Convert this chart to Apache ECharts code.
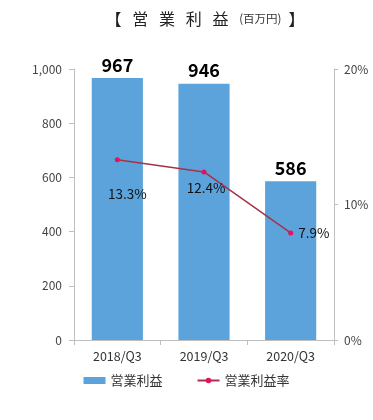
<!DOCTYPE html>
<html><head><meta charset="utf-8">
<script src="https://cdn.jsdelivr.net/npm/echarts@6/dist/echarts.min.js"></script>
<style>html,body{margin:0;padding:0;background:#fff}#c{width:373px;height:420px}</style>
</head><body><div id="c"></div>
<script>
const categories = ['2018/Q3', '2019/Q3', '2020/Q3'];
const profit = [967, 946, 586];
const margin = [13.3, 12.4, 7.9];
const leftTicks = [0, 200, 400, 600, 800, 1000];
const rightTicks = [0, 10, 20];

const FONT = '"Noto Sans CJK JP", "Noto Sans", sans-serif';
const chart = echarts.init(document.getElementById('c'));
const marginLabelPos = [
  { position: 'bottom', offset: [10, 20] },
  { position: 'bottom', offset: [2, 2] },
  { position: 'right', offset: [0, 0] }
];
chart.setOption({
  animation: false,
  textStyle: { fontFamily: FONT },
  title: {
    text: '{a|【   営   業   利   益   }{b|(百万円)}{a|  】}',
    left: 200, top: 6, textAlign: 'center',
    textStyle: {
      rich: {
        a: { fontSize: 16, color: '#222', fontWeight: 'normal', fontFamily: FONT },
        b: { fontSize: 11.5, color: '#333', fontWeight: 'normal', fontFamily: FONT }
      }
    }
  },
  legend: {
    bottom: 28, left: 'center', itemGap: 34, itemWidth: 22, itemHeight: 7,
    textStyle: { fontSize: 13, color: '#333', fontFamily: FONT },
    data: [
      { name: '営業利益', icon: 'rect' },
      { name: '営業利益率' }
    ]
  },
  grid: { left: 74, right: 39, top: 69, bottom: 80 },
  xAxis: {
    type: 'category', data: categories,
    axisLine: { lineStyle: { color: '#bfbfbf' } },
    axisTick: { show: true, length: 5, lineStyle: { color: '#bfbfbf' } },
    axisLabel: { color: '#333', fontSize: 12.5, margin: 10 }
  },
  yAxis: [
    {
      type: 'value', min: 0, max: 1000, interval: 200,
      axisLine: { show: true, lineStyle: { color: '#bfbfbf' } },
      axisTick: { show: true, length: 5, lineStyle: { color: '#bfbfbf' } },
      splitLine: { show: false },
      axisLabel: { color: '#444', fontSize: 12, margin: 12,
        formatter: v => v.toLocaleString('en-US') }
    },
    {
      type: 'value', min: 0, max: 20, interval: 10,
      axisLine: { show: true, lineStyle: { color: '#bfbfbf' } },
      axisTick: { show: true, length: 4, lineStyle: { color: '#bfbfbf' } },
      splitLine: { show: false },
      axisLabel: { color: '#444', fontSize: 12, margin: 10, formatter: v => v + '%' }
    }
  ],
  series: [
    {
      name: '営業利益', type: 'bar', data: profit, barWidth: '59%',
      itemStyle: { color: '#5BA3DA' },
      label: { show: true, position: 'top', distance: 4, fontSize: 18, fontWeight: 'bold', color: '#000' }
    },
    {
      name: '営業利益率', type: 'line', yAxisIndex: 1,
      data: margin.map((v, i) => ({ value: v, label: marginLabelPos[i] })),
      symbol: 'circle', symbolSize: 5,
      lineStyle: { color: '#A6324A', width: 1.5 },
      itemStyle: { color: '#E3125C' },
      label: { show: true, fontSize: 13.5, color: '#111', formatter: p => p.value.toFixed(1) + '%' }
    }
  ]
});
</script></body></html>
